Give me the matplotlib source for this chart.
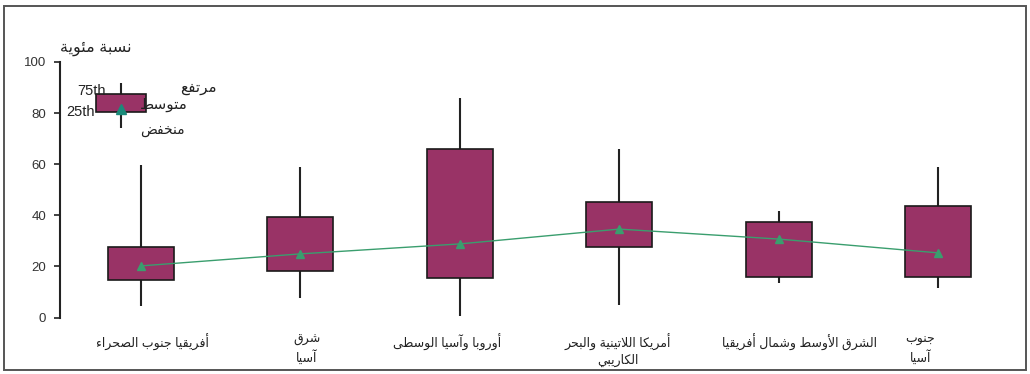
"""
Box chart: percentages by region (Arabic labels)
"""

import matplotlib
matplotlib.use("Agg")
import matplotlib.pyplot as plt
from matplotlib.patches import Rectangle

# Data (percent)
categories = ["أفريقيا جنوب الصحراء", "شرق\nآسيا", "أوروبا وآسيا الوسطى",
              "أمريكا اللاتينية والبحر\nالكاريبي", "الشرق الأوسط وشمال أفريقيا",
              "جنوب\nآسيا"]
high = [59.7, 58.8, 86.0, 65.8, 41.6, 58.8]
q75 = [27.6, 39.3, 65.8, 45.1, 37.4, 43.6]
q25 = [14.7, 18.3, 15.6, 27.6, 16.0, 16.0]
low = [4.5, 7.8, 0.4, 4.7, 13.6, 11.7]
mean = [20.2, 24.9, 28.8, 34.6, 30.7, 25.3]

# Small key box at top-left
key_vals = {"high": 91.8, "q75": 87.3, "q25": 80.4, "low": 74.0, "mean": 81.6}
key_texts = {"high": "مرتفع", "mean": "متوسط", "low": "منخفض",
             "q75": "75th", "q25": "25th"}
y_title = "نسبة مئوية"
yticks = [0, 20, 40, 60, 80, 100]

BOX_COLOR = "#993366"
LINE_COLOR = "#3a9e6e"
KEY_MARK = "#1b8a7a"
FONTS = ["Liberation Sans", "DejaVu Sans"]

# --- minimal Arabic shaping (presentation forms) so glyphs join ---
FORMS = {
    "ء": ("\ufe80",),
    "آ": ("\ufe81", "\ufe82"), "أ": ("\ufe83", "\ufe84"),
    "ؤ": ("\ufe85", "\ufe86"), "إ": ("\ufe87", "\ufe88"),
    "ئ": ("\ufe89", "\ufe8a", "\ufe8b", "\ufe8c"),
    "ا": ("\ufe8d", "\ufe8e"),
    "ب": ("\ufe8f", "\ufe90", "\ufe91", "\ufe92"),
    "ة": ("\ufe93", "\ufe94"),
    "ت": ("\ufe95", "\ufe96", "\ufe97", "\ufe98"),
    "ث": ("\ufe99", "\ufe9a", "\ufe9b", "\ufe9c"),
    "ج": ("\ufe9d", "\ufe9e", "\ufe9f", "\ufea0"),
    "ح": ("\ufea1", "\ufea2", "\ufea3", "\ufea4"),
    "خ": ("\ufea5", "\ufea6", "\ufea7", "\ufea8"),
    "د": ("\ufea9", "\ufeaa"), "ذ": ("\ufeab", "\ufeac"),
    "ر": ("\ufead", "\ufeae"), "ز": ("\ufeaf", "\ufeb0"),
    "س": ("\ufeb1", "\ufeb2", "\ufeb3", "\ufeb4"),
    "ش": ("\ufeb5", "\ufeb6", "\ufeb7", "\ufeb8"),
    "ص": ("\ufeb9", "\ufeba", "\ufebb", "\ufebc"),
    "ض": ("\ufebd", "\ufebe", "\ufebf", "\ufec0"),
    "ط": ("\ufec1", "\ufec2", "\ufec3", "\ufec4"),
    "ظ": ("\ufec5", "\ufec6", "\ufec7", "\ufec8"),
    "ع": ("\ufec9", "\ufeca", "\ufecb", "\ufecc"),
    "غ": ("\ufecd", "\ufece", "\ufecf", "\ufed0"),
    "ف": ("\ufed1", "\ufed2", "\ufed3", "\ufed4"),
    "ق": ("\ufed5", "\ufed6", "\ufed7", "\ufed8"),
    "ك": ("\ufed9", "\ufeda", "\ufedb", "\ufedc"),
    "ل": ("\ufedd", "\ufede", "\ufedf", "\ufee0"),
    "م": ("\ufee1", "\ufee2", "\ufee3", "\ufee4"),
    "ن": ("\ufee5", "\ufee6", "\ufee7", "\ufee8"),
    "ه": ("\ufee9", "\ufeea", "\ufeeb", "\ufeec"),
    "و": ("\ufeed", "\ufeee"), "ى": ("\ufeef", "\ufef0"),
    "ي": ("\ufef1", "\ufef2", "\ufef3", "\ufef4"),
}
LAM_ALEF = {"آ": ("\ufef5", "\ufef6"), "أ": ("\ufef7", "\ufef8"),
            "إ": ("\ufef9", "\ufefa"), "ا": ("\ufefb", "\ufefc")}


def _dual(c):
    return c in FORMS and len(FORMS[c]) == 4


def _joins(c):
    return c in FORMS and len(FORMS[c]) > 1


def shape_line(text):
    res = []
    i, n = 0, len(text)
    while i < n:
        c = text[i]
        if c not in FORMS:
            res.append(c)
            i += 1
            continue
        prev_join = i > 0 and _dual(text[i - 1])
        if c == "ل" and i + 1 < n and text[i + 1] in LAM_ALEF:
            iso, fin = LAM_ALEF[text[i + 1]]
            res.append(fin if prev_join else iso)
            i += 2
            continue
        f = FORMS[c]
        next_join = len(f) == 4 and i + 1 < n and _joins(text[i + 1])
        if len(f) == 1:
            res.append(f[0])
        elif prev_join and next_join:
            res.append(f[3])
        elif prev_join:
            res.append(f[1])
        elif next_join:
            res.append(f[2])
        else:
            res.append(f[0])
        i += 1
    return "".join(reversed(res))


def ar(text):
    return "\n".join(shape_line(t) for t in text.split("\n"))


# --- figure ---
fig = plt.figure(figsize=(10.3, 3.74), dpi=100)
fig.patches.append(Rectangle((0.004, 0.012), 0.992, 0.972, transform=fig.transFigure,
                             fill=False, edgecolor="#555555", linewidth=1.4))

ax = fig.add_axes([60 / 1030, 56.5 / 374, 940 / 1030, 255.5 / 374])
x = list(range(1, len(categories) + 1))
step_px = 159.4
ax.set_xlim(1 - 81 / step_px, 1 + 859 / step_px)
ax.set_ylim(0, 100)
width = 66 / step_px

# whiskers then boxes
ax.vlines(x, low, high, color="#222222", linewidth=1.5, zorder=1)
ax.bar(x, [a - b for a, b in zip(q75, q25)], bottom=q25, width=width,
       color=BOX_COLOR, edgecolor="#1a1a1a", linewidth=1.2, zorder=2)
ax.plot(x, mean, color=LINE_COLOR, linewidth=1.0, marker="^", markersize=6,
        zorder=3)

# key box
kx = 1 - 20 / step_px
kw = 50 / step_px
ax.vlines([kx], key_vals["low"], key_vals["high"], color="#222222",
          linewidth=1.5, zorder=1)
ax.bar([kx], [key_vals["q75"] - key_vals["q25"]], bottom=key_vals["q25"],
       width=kw, color=BOX_COLOR, edgecolor="#1a1a1a", linewidth=1.2, zorder=2)
ax.plot([kx], [key_vals["mean"]], marker="^", color=KEY_MARK, markersize=7,
        zorder=3)
ax.text(kx - kw / 2 + 0.06, 88.6, key_texts["q75"], ha="right",
        va="center", fontsize=10.5, family=FONTS, color="#222222", zorder=4)
ax.text(kx - kw / 2 - 0.01, 80.6, key_texts["q25"], ha="right",
        va="center", fontsize=10.5, family=FONTS, color="#222222", zorder=4)
ax.text(kx + 0.37, 89.7, ar(key_texts["high"]), ha="left", va="center",
        fontsize=11, family=FONTS, color="#222222", zorder=4)
ax.text(kx + 0.12, 83.4, ar(key_texts["mean"]), ha="left", va="center",
        fontsize=11, family=FONTS, color="#222222", zorder=4)
ax.text(kx + 0.12, 73.5, ar(key_texts["low"]), ha="left", va="center",
        fontsize=10, family=FONTS, color="#222222", zorder=4)

# category labels under the plot
label_dx = [0.07, 0.04, -0.08, -0.01, 0.13, -0.11]
for xi, lab, dx in zip(x, categories, label_dx):
    ax.text(xi + dx, -6.3, ar(lab), ha="center", va="top", fontsize=9,
            family=FONTS, color="#222222", linespacing=1.35)

# y title
fig.text(96 / 1030, 1 - 48 / 374, ar(y_title), ha="center", va="center",
         fontsize=11.5, family=FONTS, color="#222222")

# axis styling
for s in ["top", "right", "bottom"]:
    ax.spines[s].set_visible(False)
ax.spines["left"].set_linewidth(1.5)
ax.spines["left"].set_color("#222222")
ax.set_xticks([])
ax.set_yticks(yticks)
ax.tick_params(axis="y", length=4, width=1.2, labelsize=9.5, colors="#222222",
               pad=6)
for t in ax.get_yticklabels():
    t.set_family(FONTS)
    t.set_color("#333333")

plt.savefig("out.png", dpi=100)
